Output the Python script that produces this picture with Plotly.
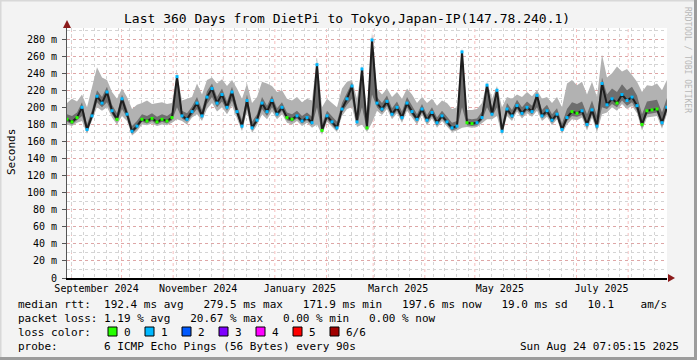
import plotly.graph_objects as go
import pandas as pd

# ---------------- data (ms), 3-day steps ----------------
t_start = "2024-08-29 07:05:15"
t_end = "2025-08-24 07:05:15"
dates = list(pd.date_range(t_start, periods=120, freq="3D")) + [pd.Timestamp("2025-08-24 06:00")]

median_ms = [186,183,188,200,174,190,213,205,218,196,
             186,210,192,172,178,186,184,187,183,186,
             184,188,236,190,186,195,205,190,212,222,
             205,215,200,218,195,178,208,176,185,205,
             195,208,192,200,188,186,190,184,188,182,
             250,173,190,183,176,198,210,225,183,245,
             176,279,205,198,207,192,200,188,205,195,
             186,198,185,194,182,190,183,176,178,265,
             182,181,182,188,226,192,220,172,198,190,
             202,193,200,195,214,190,196,185,192,174,
             188,195,193,196,180,197,178,228,203,210,
             205,215,208,212,202,180,196,197,198,182,
             200]
smoke_max = [205,210,207,215,200,225,247,235,232,218,
             210,222,212,198,203,205,208,204,205,206,
             204,205,240,208,210,212,228,215,232,235,
             228,233,225,232,222,210,228,205,212,230,
             228,225,218,220,210,208,212,206,210,208,
             258,200,210,205,200,222,230,232,210,250,
             195,288,222,215,222,212,218,210,222,215,
             205,212,205,210,202,208,205,198,200,270,
             197,197,198,205,230,210,225,200,212,210,
             215,212,218,213,220,210,212,205,212,200,
             228,232,226,230,215,230,212,262,235,240,
             248,242,245,238,230,218,226,225,228,220,
             232]
smoke_min = [180,178,182,184,169,184,200,196,200,188,
             180,190,184,167,172,180,179,181,178,180,
             179,182,186,184,180,188,192,184,198,205,
             195,200,192,202,188,172,195,170,179,192,
             186,195,186,192,182,180,184,178,182,176,
             180,168,183,177,171,190,198,200,177,180,
             171,182,196,191,198,186,193,182,196,188,
             180,191,179,187,176,184,177,171,173,176,
             177,176,177,182,186,186,190,167,190,184,
             195,187,193,189,196,184,189,179,186,169,
             180,186,185,188,173,188,171,192,194,200,
             196,204,198,202,193,173,188,189,190,175,
             192]
inner_lo = [183,180,185,190,171,187,206,200,206,192,
            183,198,188,169,175,183,181,184,180,183,
            181,185,200,187,183,191,198,187,204,212,
            200,207,196,208,191,175,200,173,182,198,
            190,200,189,196,185,183,187,181,185,179,
            200,170,186,180,173,194,203,210,180,200,
            173,215,200,194,202,189,196,185,200,191,
            183,194,182,190,179,187,180,173,175,200,
            179,178,179,185,200,189,200,169,194,187,
            198,190,196,192,200,187,192,182,189,171,
            184,190,189,191,176,192,174,200,198,204,
            200,208,202,206,196,176,192,193,194,178,
            196]
inner_hi = [192,190,194,206,180,197,220,212,224,203,
            193,215,198,178,184,192,190,193,189,192,
            190,194,239,196,193,201,212,197,219,228,
            212,222,207,224,202,185,215,183,192,212,
            202,214,199,206,194,192,196,190,194,189,
            253,180,196,189,183,205,217,229,190,248,
            182,283,212,205,214,199,207,195,212,202,
            192,204,191,200,188,196,189,182,184,268,
            187,186,187,195,228,199,222,178,205,197,
            209,200,207,202,217,197,203,192,199,181,
            198,206,204,207,192,208,190,235,215,222,
            218,227,220,224,214,192,207,208,209,194,
            211]
loss = [0,0,0,1,1,1,1,1,1,1,
        0,1,1,1,1,0,0,0,0,0,
        0,0,1,1,1,1,1,1,1,1,
        1,1,1,1,1,1,1,1,1,1,
        1,1,1,1,0,0,1,1,1,1,
        1,0,1,1,1,1,1,1,1,1,
        0,1,1,1,1,1,1,1,1,1,
        1,1,1,1,1,1,1,1,1,1,
        0,0,1,1,1,1,1,1,1,1,
        1,1,1,1,1,1,1,1,1,1,
        1,0,0,1,1,1,1,1,1,1,
        0,1,1,1,1,0,0,0,0,1,
        1]

loss_labels = ["0", "1", "2", "3", "4", "5", "6/6"]
loss_colors = ["#26ff00", "#00b8ff", "#0059ff", "#7e00ff", "#ff00ff", "#ff0000", "#a10000"]

y_ticks = [0, 20, 40, 60, 80, 100, 120, 140, 160, 180, 200, 220, 240, 260, 280]
y_ticktext = ["0"] + [f"{v} m" for v in y_ticks[1:]]
x_label_dates = ["2024-09-16", "2024-11-16", "2025-01-16", "2025-03-16", "2025-05-16", "2025-07-16"]
x_label_text = ["September 2024", "November 2024", "January 2025", "March 2025", "May 2025", "July 2025"]
month_starts = ["2024-09-01", "2024-10-01", "2024-11-01", "2024-12-01", "2025-01-01", "2025-02-01",
                "2025-03-01", "2025-04-01", "2025-05-01", "2025-06-01", "2025-07-01", "2025-08-01"]

title_text = "Last 360 Days from DietPi to Tokyo,Japan-IP(147.78.240.1)"
legend_lines = [
    "median rtt:  192.4 ms avg   279.5 ms max   171.9 ms min   197.6 ms now   19.0 ms sd   10.1    am/s",
    "packet loss: 1.19 % avg   20.67 % max   0.00 % min   0.00 % now",
    "loss color:",
    "probe:       6 ICMP Echo Pings (56 Bytes) every 90s",
]
stamp = "Sun Aug 24 07:05:15 2025"

# ---------------- layout constants (pixels) ----------------
W, H = 697, 360
L, R, T, B = 67, 30, 28, 82
PW, PH = W - L - R, H - T - B
MONO = "DejaVu Sans Mono"
RED_GRID = "rgba(235,110,110,0.45)"
GRAY_GRID = "#d4d4d4"


def px(xp):
    return (xp - L) / PW


def py(yp):
    return (H - B - yp) / PH


fig = go.Figure()

# light smoke
fig.add_trace(go.Scatter(x=dates, y=smoke_min, mode="lines", line=dict(width=0),
                         hoverinfo="skip", showlegend=False))
fig.add_trace(go.Scatter(x=dates, y=smoke_max, mode="lines", line=dict(width=0),
                         fill="tonexty", fillcolor="#b2b2b2", hoverinfo="skip", showlegend=False))
# dark smoke
fig.add_trace(go.Scatter(x=dates, y=inner_lo, mode="lines", line=dict(width=0),
                         hoverinfo="skip", showlegend=False))
fig.add_trace(go.Scatter(x=dates, y=inner_hi, mode="lines", line=dict(width=0),
                         fill="tonexty", fillcolor="#6e6e6e", hoverinfo="skip", showlegend=False))
# median
fig.add_trace(go.Scatter(x=dates, y=median_ms, mode="lines", line=dict(color="#1e1e1e", width=2),
                         hoverinfo="skip", showlegend=False))
fig.add_trace(go.Scatter(x=dates, y=median_ms, mode="markers",
                         marker=dict(symbol="square", size=3, color=[loss_colors[v] for v in loss],
                                     line=dict(width=0)),
                         hoverinfo="skip", showlegend=False))

shapes = []
for m in month_starts:
    shapes.append(dict(type="line", xref="x", yref="paper", x0=m, x1=m, y0=0, y1=1,
                       line=dict(color=RED_GRID, width=1, dash="dot"), layer="between"))
# axis arrows
shapes.append(dict(type="line", xref="paper", yref="paper", x0=0, x1=0, y0=1, y1=py(24),
                   line=dict(color="#555555", width=1)))
shapes.append(dict(type="path", xref="paper", yref="paper",
                   path=f"M {px(63)},{py(28)} L {px(71)},{py(28)} L {px(67)},{py(20)} Z",
                   fillcolor="#8b1a1a", line=dict(width=0)))
shapes.append(dict(type="path", xref="paper", yref="paper",
                   path=f"M {px(668)},{py(274)} L {px(668)},{py(282)} L {px(675)},{py(278)} Z",
                   fillcolor="#8b1a1a", line=dict(width=0)))
# loss colour boxes
for k, c in enumerate(loss_colors):
    bx = 108 + k * 37
    shapes.append(dict(type="rect", xref="paper", yref="paper",
                       x0=px(bx), x1=px(bx + 9), y0=py(336), y1=py(327),
                       fillcolor=c, line=dict(color="#000000", width=1)))
# image frame
shapes.append(dict(type="line", xref="paper", yref="paper", x0=px(0.5), x1=px(0.5), y0=py(0), y1=py(H),
                   line=dict(color="#d8d8d8", width=2)))
shapes.append(dict(type="line", xref="paper", yref="paper", x0=px(0), x1=px(W), y0=py(0.5), y1=py(0.5),
                   line=dict(color="#d8d8d8", width=2)))
shapes.append(dict(type="line", xref="paper", yref="paper", x0=px(W - 1.5), x1=px(W - 1.5), y0=py(0), y1=py(H),
                   line=dict(color="#9c9c9c", width=3)))
shapes.append(dict(type="line", xref="paper", yref="paper", x0=px(0), x1=px(W), y0=py(H - 1.5), y1=py(H - 1.5),
                   line=dict(color="#9c9c9c", width=3)))

annotations = []
annotations.append(dict(text=title_text, xref="paper", yref="paper", x=px(347), y=py(19),
                        xanchor="center", yanchor="middle", showarrow=False,
                        font=dict(family=MONO, size=13, color="#000000")))
annotations.append(dict(text="Seconds", xref="paper", yref="paper", x=px(11), y=py(152),
                        xanchor="center", yanchor="middle", textangle=-90, showarrow=False,
                        font=dict(family=MONO, size=11, color="#000000")))
annotations.append(dict(text="RRDTOOL / TOBI OETIKER", xref="paper", yref="paper", x=px(688), y=py(60),
                        xanchor="center", yanchor="middle", textangle=90, showarrow=False,
                        font=dict(family=MONO, size=8, color="#b8b8b8")))
row_y = [304, 318, 332, 346]
for r, txt in enumerate(legend_lines):
    annotations.append(dict(text=txt.replace(" ", "&nbsp;"), xref="paper", yref="paper",
                            x=px(16), y=py(row_y[r]), xanchor="left", yanchor="middle",
                            showarrow=False, font=dict(family=MONO, size=11, color="#000000")))
for k, lab in enumerate(loss_labels):
    annotations.append(dict(text=lab, xref="paper", yref="paper", x=px(108 + k * 37 + 14),
                            y=py(row_y[2]), xanchor="left", yanchor="middle", showarrow=False,
                            font=dict(family=MONO, size=11, color="#000000")))
annotations.append(dict(text=stamp, xref="paper", yref="paper", x=px(681), y=py(row_y[3]),
                        xanchor="right", yanchor="middle", showarrow=False,
                        font=dict(family=MONO, size=11, color="#000000")))

fig.update_layout(
    width=W, height=H,
    margin=dict(l=L, r=R, t=T, b=B, pad=0),
    paper_bgcolor="#f3f3f3", plot_bgcolor="#ffffff",
    showlegend=False,
    shapes=shapes, annotations=annotations,
    xaxis=dict(type="date", range=[t_start, t_end], tickvals=x_label_dates, ticktext=x_label_text,
               showgrid=False, zeroline=False, ticks="", showline=True, linecolor="#000000", linewidth=2,
               tickfont=dict(family=MONO, size=10, color="#000000"),
               minor=dict(dtick=7 * 86400000, tick0="2024-09-01", showgrid=True,
                          gridcolor=GRAY_GRID, griddash="dot", gridwidth=1)),
    yaxis=dict(range=[0, 293], tickvals=y_ticks, ticktext=y_ticktext, showgrid=True,
               gridcolor=RED_GRID, griddash="dot", gridwidth=1, zeroline=False,
               showline=True, linecolor="#555555", linewidth=1, ticks="outside", ticklen=4,
               tickcolor="#555555", ticklabelstandoff=3,
               tickfont=dict(family=MONO, size=10, color="#000000"),
               minor=dict(dtick=10, tick0=0, showgrid=True, gridcolor=GRAY_GRID, griddash="dot",
                          gridwidth=1)),
)

fig.write_html("out.html", config={"displayModeBar": False},
               post_script="document.body.style.margin='0px';document.body.style.overflow='hidden';")
